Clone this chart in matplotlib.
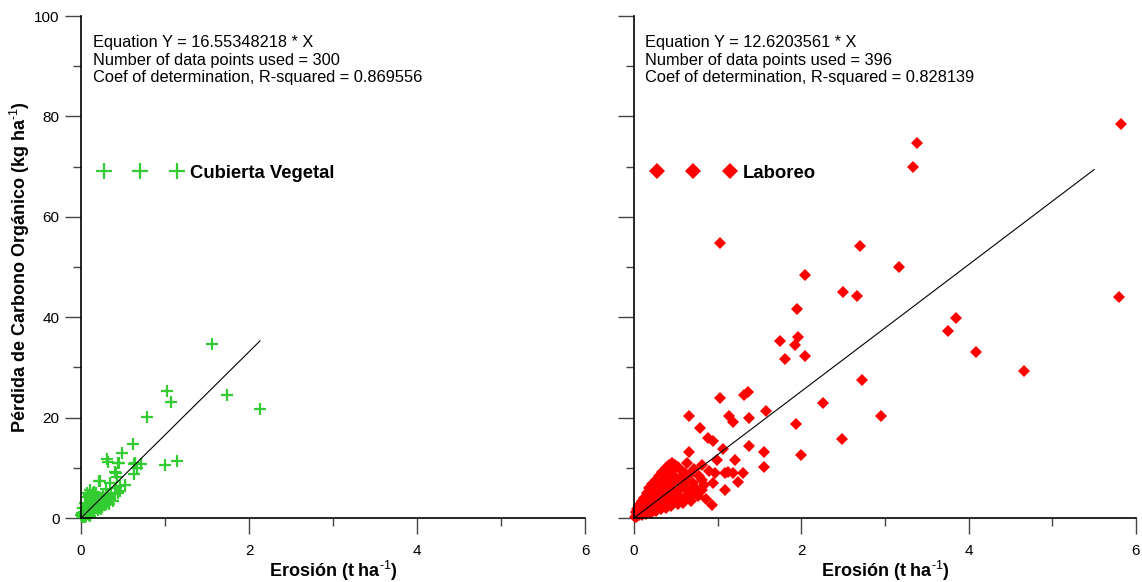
import matplotlib
matplotlib.use("Agg")
import matplotlib.pyplot as plt
import numpy as np
from matplotlib.ticker import MultipleLocator

plt.rcParams["font.family"] = "Liberation Sans"
plt.rcParams["mathtext.fontset"] = "custom"
plt.rcParams["mathtext.rm"] = "Liberation Sans"
plt.rcParams["mathtext.bf"] = "Liberation Sans:bold"

# Cubierta Vegetal (erosion t/ha, carbon loss kg/ha)
veg_x = [1.56, 1.02, 1.07, 1.74, 2.13, 0.79, 0.62, 1.00, 1.14, 0.31, 0.32, 0.49,
         0.44, 0.63, 0.72, 0.67, 0.63, 0.40, 0.43, 0.23, 0.35, 0.46, 0.44, 0.11,
         0.14, 0.07, 0.19, 0.26, 0.13, 0.45, 0.64, 0.42, 0.21, 0.40, 0.26, 0.02,
         0.01, 0.02, 0.03, 0.04, 0.05, 0.06, 0.07, 0.08, 0.09, 0.10, 0.11, 0.12,
         0.13, 0.14, 0.15, 0.16, 0.17, 0.18, 0.19, 0.20, 0.21, 0.22, 0.23, 0.24,
         0.25, 0.26, 0.27, 0.28, 0.29, 0.30, 0.32, 0.33, 0.34, 0.36, 0.38, 0.03,
         0.05, 0.07, 0.09, 0.12, 0.15, 0.18, 0.02, 0.04, 0.06, 0.08, 0.10, 0.13,
         0.16, 0.20, 0.22, 0.24, 0.01, 0.00, 0.05, 0.11, 0.42, 0.47, 0.52, 0.30]
veg_y = [34.7, 25.3, 23.1, 24.5, 21.7, 20.1, 14.7, 10.6, 11.4, 11.8, 11.2, 12.9,
         11.0, 10.8, 10.8, 10.0, 8.8, 9.2, 8.2, 7.4, 7.0, 6.4, 5.0, 5.6,
         5.0, 5.0, 4.2, 3.6, 2.6, 11.0, 11.0, 9.0, 7.4, 5.0, 4.0, 2.0,
         0.3, 0.8, 0.5, 1.2, 0.9, 1.6, 0.7, 2.1, 1.3, 1.9, 2.6, 1.5,
         3.1, 2.2, 1.8, 3.4, 2.7, 1.9, 3.8, 2.4, 3.0, 4.1, 2.8, 3.5,
         2.2, 4.6, 3.2, 2.6, 3.9, 3.0, 4.4, 2.8, 3.6, 4.8, 3.3, 2.0,
         3.0, 4.2, 4.6, 4.0, 5.2, 5.0, 0.1, 0.2, 0.4, 0.9, 0.6, 1.0,
         1.1, 1.5, 1.9, 1.7, 1.0, 0.5, 0.1, 0.3, 6.0, 5.4, 6.6, 5.8]

# Laboreo
lab_x = [5.82, 5.80, 3.38, 3.33, 1.03, 2.70, 2.04, 3.17, 2.50, 2.67, 1.95, 3.85,
         3.75, 1.74, 1.96, 1.92, 2.04, 1.80, 4.09, 4.66, 2.72, 2.95, 2.26, 2.00,
         2.49, 1.94, 0.66, 1.03, 1.31, 1.36, 1.58, 0.79, 1.14, 1.18, 0.88, 0.94,
         1.37, 1.06, 1.37, 1.55, 1.55, 0.93, 1.30, 1.18, 1.09, 0.97, 0.94, 1.09,
         1.24, 0.81, 0.81, 0.81, 0.71, 0.69, 0.59, 0.49, 0.63, 0.61, 0.49, 0.45,
         0.49, 0.33, 0.66, 0.99, 1.21, 1.12,
         0.02, 0.03, 0.04, 0.05, 0.06, 0.07, 0.08, 0.09, 0.10, 0.11, 0.12, 0.13,
         0.14, 0.15, 0.16, 0.17, 0.18, 0.19, 0.20, 0.21, 0.22, 0.23, 0.24, 0.25,
         0.26, 0.27, 0.28, 0.29, 0.30, 0.31, 0.32, 0.33, 0.34, 0.35, 0.36, 0.37,
         0.38, 0.39, 0.40, 0.41, 0.42, 0.43, 0.44, 0.45, 0.46, 0.47, 0.48, 0.50,
         0.52, 0.53, 0.55, 0.56, 0.58, 0.60, 0.62, 0.64, 0.66, 0.68, 0.70, 0.72,
         0.74, 0.76, 0.78, 0.84, 0.86, 0.90, 0.05, 0.08, 0.10, 0.12, 0.15, 0.18,
         0.22, 0.26, 0.30, 0.34, 0.38, 0.42, 0.46, 0.01, 0.02, 0.04, 0.06, 0.10,
         0.14, 0.20, 0.26, 0.32, 0.38, 0.44, 0.52, 0.58]
lab_y = [78.5, 44.0, 74.7, 69.9, 54.8, 54.2, 48.4, 50.0, 45.0, 44.2, 41.6, 39.8,
         37.3, 35.3, 36.1, 34.5, 32.3, 31.7, 33.1, 29.3, 27.5, 20.3, 22.9, 12.6,
         15.7, 18.7, 20.3, 23.9, 24.5, 25.1, 21.3, 17.9, 20.3, 19.1, 15.9, 15.3,
         19.9, 13.7, 14.3, 13.1, 10.2, 2.6, 8.9, 8.9, 8.9, 8.9, 7.0, 5.6,
         7.2, 10.6, 7.6, 5.6, 6.2, 4.6, 6.6, 10.6, 11.0, 9.0, 8.2, 5.6,
         3.2, 3.6, 13.1, 11.6, 11.6, 9.2,
         0.2, 0.8, 0.4, 1.1, 0.6, 1.5, 0.9, 2.0, 1.2, 2.4, 1.6, 2.9,
         1.1, 3.3, 2.0, 3.8, 1.5, 4.2, 2.6, 4.8, 1.8, 3.4, 5.3, 2.2,
         4.0, 5.8, 3.0, 6.2, 2.4, 4.6, 6.8, 3.2, 5.2, 7.3, 2.8, 4.4,
         7.8, 3.6, 5.6, 8.3, 3.0, 6.4, 8.8, 4.2, 7.0, 9.6, 5.0, 7.6,
         10.2, 4.6, 8.0, 6.0, 9.2, 4.0, 7.4, 5.4, 8.6, 3.4, 7.0, 9.8,
         5.8, 4.4, 8.4, 6.6, 3.8, 9.4, 2.0, 2.8, 3.4, 4.0, 5.0, 6.0,
         6.8, 7.6, 8.4, 9.2, 10.0, 10.6, 11.0, 0.1, 1.2, 1.8, 2.6, 0.5,
         0.8, 1.0, 1.4, 1.8, 2.0, 2.4, 2.8, 3.0]

veg_slope = 16.55348218
lab_slope = 12.6203561
veg_fit_x = [0.0, 2.13]
lab_fit_x = [0.0, 5.50]

veg_text = ("Equation Y = 16.55348218 * X\n"
            "Number of data points used = 300\n"
            "Coef of determination, R-squared = 0.869556")
lab_text = ("Equation Y = 12.6203561 * X\n"
            "Number of data points used = 396\n"
            "Coef of determination, R-squared = 0.828139")

W, H = 1142, 582
fig = plt.figure(figsize=(W / 100, H / 100), dpi=100)
ax1 = fig.add_axes([81 / W, 64 / H, 504 / W, 502 / H])
ax2 = fig.add_axes([634 / W, 64 / H, 502 / W, 502 / H])

sup = r"$^{\text{-1}}$"


def style(ax, show_y):
    ax.set_xlim(0, 6)
    ax.set_ylim(0, 100)
    for s in ("top", "right"):
        ax.spines[s].set_visible(False)
    for s in ("left", "bottom"):
        ax.spines[s].set_linewidth(1.2)
    ax.xaxis.set_major_locator(MultipleLocator(2))
    ax.xaxis.set_minor_locator(MultipleLocator(1))
    ax.yaxis.set_major_locator(MultipleLocator(20))
    ax.yaxis.set_minor_locator(MultipleLocator(10))
    ax.tick_params(which="major", length=11.5, width=1, color="#444444",
                   labelsize=11, direction="out")
    ax.tick_params(which="minor", length=5.8, width=1, color="#444444",
                   direction="out")
    ax.tick_params(axis="x", which="major", pad=7)
    ax.tick_params(axis="y", which="major", pad=4, labelleft=show_y)
    ax.set_xlabel("Erosión (t ha" + sup + ")", fontsize=13, fontweight="bold",
                  labelpad=1)


style(ax1, True)
style(ax2, False)
ax1.set_ylabel("Pérdida de Carbono Orgánico (kg ha" + sup + ")", fontsize=13,
               fontweight="bold", labelpad=1.5)

veg_line, = ax1.plot(veg_x, veg_y, linestyle="none", marker="+", markersize=8,
                     markeredgewidth=1.6, color="#33cc33", clip_on=False)
ax1.plot(veg_fit_x, np.array(veg_fit_x) * veg_slope, color="black", lw=0.8)
lab_line, = ax2.plot(lab_x, lab_y, linestyle="none", marker="D", markersize=6,
                     color="#ff0000", markeredgewidth=0, clip_on=False)
ax2.plot(lab_fit_x, np.array(lab_fit_x) * lab_slope, color="black", lw=0.8)

ax1.text(0.024, 0.962, veg_text, transform=ax1.transAxes, fontsize=11.8,
         va="top", ha="left", linespacing=1.22)
ax2.text(0.022, 0.962, lab_text, transform=ax2.transAxes, fontsize=11.8,
         va="top", ha="left", linespacing=1.22)

ax1.legend([veg_line], ["Cubierta Vegetal"], numpoints=3, handlelength=4.55,
           handletextpad=0.4, markerscale=1.45, frameon=False, borderpad=0,
           borderaxespad=0, loc="center left", bbox_to_anchor=(0.034, 0.687),
           prop={"weight": "bold", "size": 13.3})
ax2.legend([lab_line], ["Laboreo"], numpoints=3, handlelength=4.55,
           handletextpad=0.4, markerscale=1.35, frameon=False, borderpad=0,
           borderaxespad=0, loc="center left", bbox_to_anchor=(0.034, 0.687),
           prop={"weight": "bold", "size": 13.3})

fig.savefig("out.png", dpi=100)
